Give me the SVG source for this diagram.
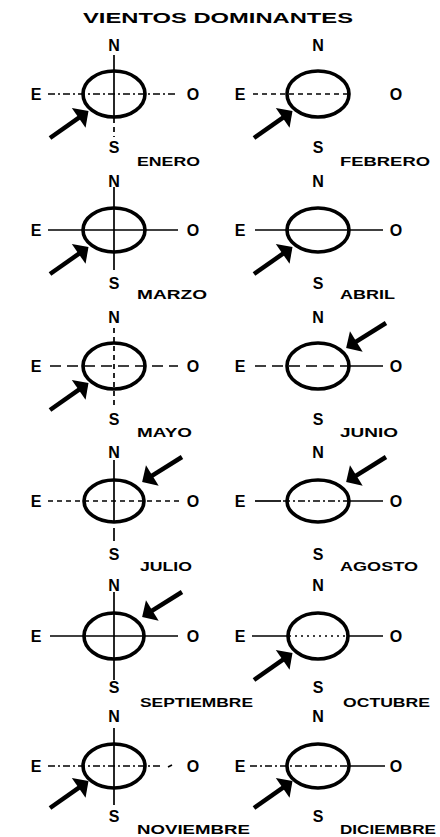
<svg xmlns="http://www.w3.org/2000/svg" xmlns:xlink="http://www.w3.org/1999/xlink" width="440" height="837" viewBox="0 0 440 837">
<style>
.ring{fill:none;stroke:#000;stroke-width:3.6}
.ax{stroke:#000;stroke-width:1.7;fill:none}
.dash{stroke-dasharray:5 4}
.ldash{stroke-dasharray:11 6}
.dd{stroke-dasharray:7 3 2 3}
.dot{stroke-dasharray:2 4}
.cp{font-family:"Liberation Sans",Arial,sans-serif;font-weight:bold;font-size:16px;fill:#000;text-anchor:middle}
.mon{font-family:"Liberation Sans",Arial,sans-serif;font-weight:bold;font-size:12px;fill:#000}
.title{font-family:"Liberation Sans",Arial,sans-serif;font-weight:bold;font-size:15px;fill:#000;text-anchor:middle}
</style>
<defs>
<g id="arr"><line x1="0" y1="0" x2="38" y2="0" stroke="#000" stroke-width="4.5"/><polygon points="35,-12 47,0 35,12" fill="#000"/></g>
</defs>
<rect width="440" height="837" fill="#fff"/>
<text class="title" x="218" y="23" textLength="270" lengthAdjust="spacingAndGlyphs">VIENTOS DOMINANTES</text>

<g id="enero">
<line class="ax dd" x1="48" y1="94" x2="178" y2="94"/>
<line class="ax" x1="114" y1="55" x2="114" y2="118"/>
<line class="ax dash" x1="114" y1="118" x2="114" y2="137"/>
<ellipse class="ring" cx="114" cy="94" rx="31" ry="23"/>
<use xlink:href="#arr" transform="translate(50,138) rotate(-35)"/>
<text class="cp" x="114" y="51">N</text><text class="cp" x="114" y="153">S</text>
<text class="cp" x="36" y="100">E</text><text class="cp" x="193" y="100">O</text>
<text class="mon" x="137" y="166" textLength="63" lengthAdjust="spacingAndGlyphs">ENERO</text>
</g>

<g id="febrero">
<line class="ax dash" x1="253" y1="94" x2="349" y2="94"/>
<ellipse class="ring" cx="318" cy="94" rx="31" ry="23"/>
<use xlink:href="#arr" transform="translate(254,138) rotate(-35)"/>
<text class="cp" x="318" y="51">N</text><text class="cp" x="318" y="153">S</text>
<text class="cp" x="240" y="100">E</text><text class="cp" x="396" y="100">O</text>
<text class="mon" x="340" y="166" textLength="90" lengthAdjust="spacingAndGlyphs">FEBRERO</text>
</g>

<g id="marzo">
<line class="ax" x1="48" y1="230" x2="178" y2="230"/>
<line class="ax" x1="114" y1="187" x2="114" y2="270"/>
<ellipse class="ring" cx="114" cy="230" rx="31" ry="22"/>
<use xlink:href="#arr" transform="translate(50,274) rotate(-35)"/>
<text class="cp" x="114" y="187">N</text><text class="cp" x="114" y="289">S</text>
<text class="cp" x="36" y="236">E</text><text class="cp" x="193" y="236">O</text>
<text class="mon" x="137" y="299" textLength="70" lengthAdjust="spacingAndGlyphs">MARZO</text>
</g>

<g id="abril">
<line class="ax" x1="255" y1="230" x2="383" y2="230"/>
<ellipse class="ring" cx="318" cy="230" rx="31" ry="22"/>
<use xlink:href="#arr" transform="translate(254,274) rotate(-35)"/>
<text class="cp" x="318" y="187">N</text><text class="cp" x="318" y="289">S</text>
<text class="cp" x="240" y="236">E</text><text class="cp" x="396" y="236">O</text>
<text class="mon" x="340" y="299" textLength="55" lengthAdjust="spacingAndGlyphs">ABRIL</text>
</g>

<g id="mayo">
<line class="ax ldash" x1="50" y1="366" x2="178" y2="366"/>
<line class="ax dash" x1="114" y1="328" x2="114" y2="405"/>
<ellipse class="ring" cx="114" cy="366" rx="31" ry="23"/>
<use xlink:href="#arr" transform="translate(50,410) rotate(-35)"/>
<text class="cp" x="114" y="323">N</text><text class="cp" x="114" y="425">S</text>
<text class="cp" x="36" y="372">E</text><text class="cp" x="193" y="372">O</text>
<text class="mon" x="137" y="437" textLength="55" lengthAdjust="spacingAndGlyphs">MAYO</text>
</g>

<g id="junio">
<line class="ax ldash" x1="255" y1="366" x2="349" y2="366"/>
<line class="ax" x1="349" y1="366" x2="383" y2="366"/>
<ellipse class="ring" cx="318" cy="366" rx="31" ry="23"/>
<use xlink:href="#arr" transform="translate(386,323) rotate(148)"/>
<text class="cp" x="318" y="323">N</text><text class="cp" x="318" y="425">S</text>
<text class="cp" x="240" y="372">E</text><text class="cp" x="396" y="372">O</text>
<text class="mon" x="340" y="437" textLength="58" lengthAdjust="spacingAndGlyphs">JUNIO</text>
</g>

<g id="julio">
<line class="ax dash" x1="48" y1="501" x2="180" y2="501"/>
<line class="ax" x1="114" y1="460" x2="114" y2="522"/>
<line class="ax" x1="114" y1="528" x2="114" y2="541"/>
<ellipse class="ring" cx="114" cy="501" rx="30" ry="21"/>
<use xlink:href="#arr" transform="translate(182,457) rotate(148)"/>
<text class="cp" x="114" y="458">N</text><text class="cp" x="114" y="560">S</text>
<text class="cp" x="36" y="507">E</text><text class="cp" x="193" y="507">O</text>
<text class="mon" x="140" y="571" textLength="52" lengthAdjust="spacingAndGlyphs">JULIO</text>
</g>

<g id="agosto">
<line class="ax" x1="255" y1="501" x2="281" y2="501"/>
<line class="ax dd" x1="283" y1="501" x2="349" y2="501"/>
<line class="ax" x1="349" y1="501" x2="383" y2="501"/>
<ellipse class="ring" cx="318" cy="501" rx="31" ry="21"/>
<use xlink:href="#arr" transform="translate(386,457) rotate(148)"/>
<text class="cp" x="318" y="458">N</text><text class="cp" x="318" y="560">S</text>
<text class="cp" x="240" y="507">E</text><text class="cp" x="396" y="507">O</text>
<text class="mon" x="340" y="571" textLength="78" lengthAdjust="spacingAndGlyphs">AGOSTO</text>
</g>

<g id="septiembre">
<line class="ax" x1="50" y1="636" x2="178" y2="636"/>
<line class="ax" x1="114" y1="592" x2="114" y2="680"/>
<ellipse class="ring" cx="114" cy="636" rx="30" ry="23"/>
<use xlink:href="#arr" transform="translate(182,592) rotate(148)"/>
<text class="cp" x="114" y="591">N</text><text class="cp" x="114" y="693">S</text>
<text class="cp" x="36" y="642">E</text><text class="cp" x="193" y="642">O</text>
<text class="mon" x="140" y="707" textLength="113" lengthAdjust="spacingAndGlyphs">SEPTIEMBRE</text>
</g>

<g id="octubre">
<line class="ax" x1="252" y1="636" x2="287" y2="636"/>
<line class="ax dot" x1="289" y1="636" x2="348" y2="636"/>
<line class="ax" x1="349" y1="636" x2="383" y2="636"/>
<ellipse class="ring" cx="318" cy="636" rx="30" ry="23"/>
<use xlink:href="#arr" transform="translate(254,680) rotate(-35)"/>
<text class="cp" x="318" y="591">N</text><text class="cp" x="318" y="693">S</text>
<text class="cp" x="240" y="642">E</text><text class="cp" x="396" y="642">O</text>
<text class="mon" x="343" y="707" textLength="87" lengthAdjust="spacingAndGlyphs">OCTUBRE</text>
</g>

<g id="noviembre">
<line class="ax dd" x1="48" y1="766" x2="163" y2="766"/>
<line class="ax" x1="168" y1="767" x2="172" y2="765" stroke-width="3"/>
<line class="ax" x1="114" y1="728" x2="114" y2="805"/>
<ellipse class="ring" cx="114" cy="766" rx="31" ry="22"/>
<use xlink:href="#arr" transform="translate(50,808) rotate(-35)"/>
<text class="cp" x="114" y="722">N</text><text class="cp" x="114" y="822">S</text>
<text class="cp" x="36" y="772">E</text><text class="cp" x="193" y="772">O</text>
<text class="mon" x="137" y="834" font-size="11" textLength="113" lengthAdjust="spacingAndGlyphs">NOVIEMBRE</text>
</g>

<g id="diciembre">
<line class="ax dd" x1="250" y1="766" x2="349" y2="766"/>
<line class="ax" x1="349" y1="766" x2="385" y2="766"/>
<ellipse class="ring" cx="318" cy="766" rx="31" ry="22"/>
<use xlink:href="#arr" transform="translate(254,808) rotate(-35)"/>
<text class="cp" x="318" y="722">N</text><text class="cp" x="318" y="822">S</text>
<text class="cp" x="240" y="772">E</text><text class="cp" x="396" y="772">O</text>
<text class="mon" x="340" y="834" font-size="11" textLength="96" lengthAdjust="spacingAndGlyphs">DICIEMBRE</text>
</g>
</svg>
